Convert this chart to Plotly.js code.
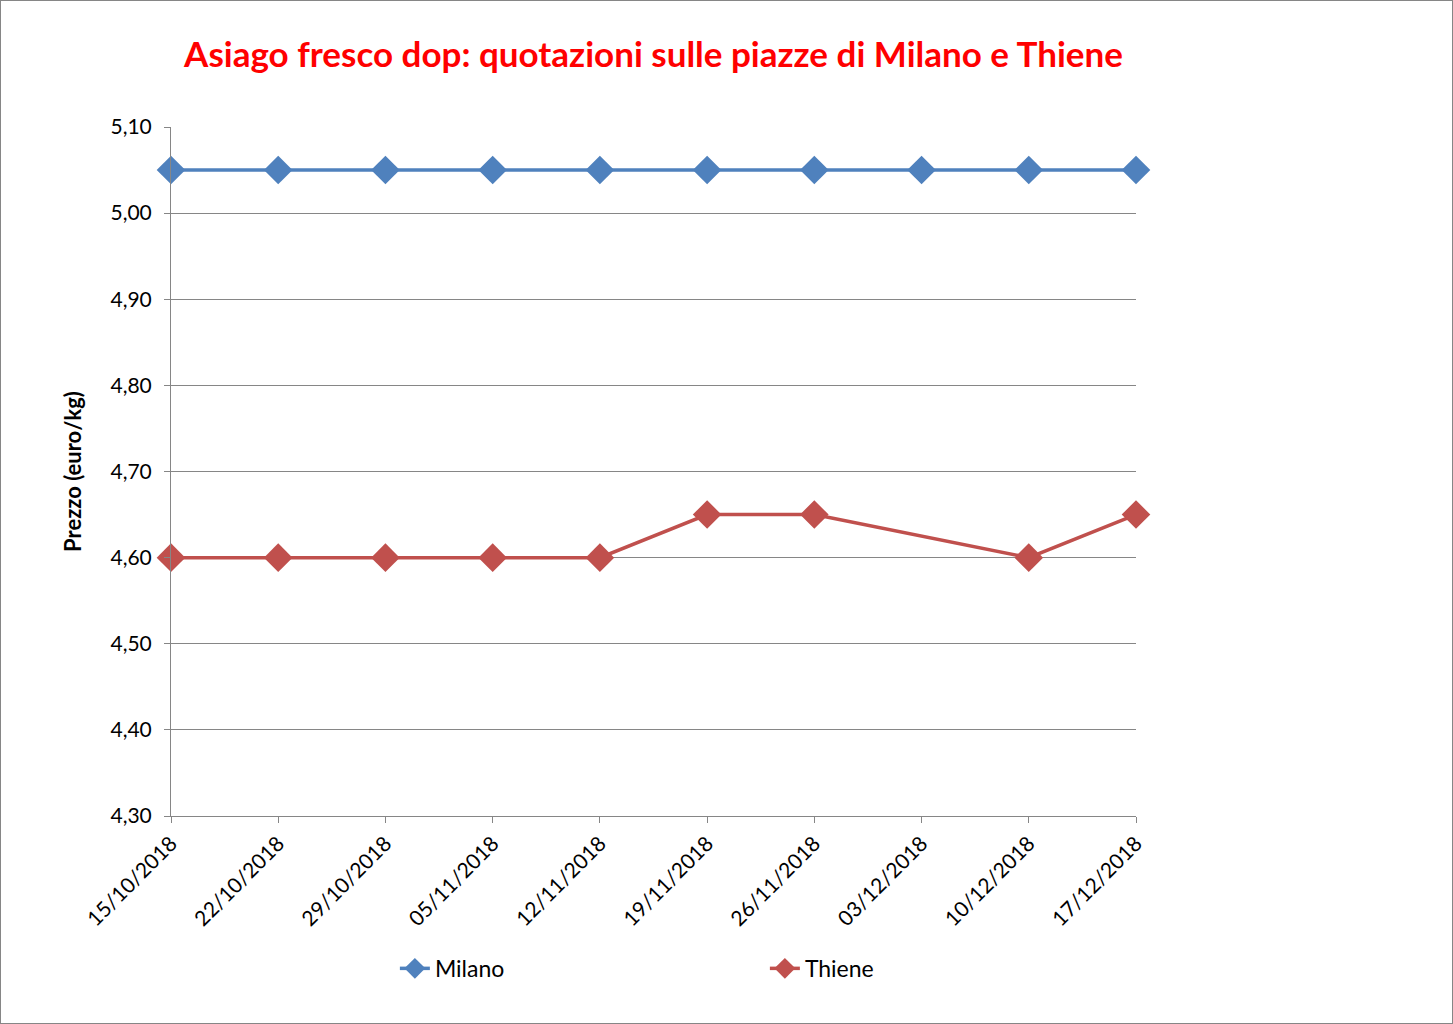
<!DOCTYPE html>
<html>
<head>
<meta charset="utf-8">
<script src="https://cdn.plot.ly/plotly-3.0.1.min.js"></script>
<style>
  html, body { margin: 0; padding: 0; background: #fff; }
  #chart { width: 1451px; height: 1022px; border: 1px solid #868686; }
</style>
</head>
<body>
<div id="chart"></div>
<script>
const dates = ["15/10/2018","22/10/2018","29/10/2018","05/11/2018","12/11/2018","19/11/2018","26/11/2018","03/12/2018","10/12/2018","17/12/2018"];
const milano = [5.05,5.05,5.05,5.05,5.05,5.05,5.05,5.05,5.05,5.05];
const thiene = [4.60,4.60,4.60,4.60,4.60,4.65,4.65,null,4.60,4.65];
const yTicks = [4.30,4.40,4.50,4.60,4.70,4.80,4.90,5.00,5.10];

const FONT = "Lato, 'Open Sans', sans-serif";

const traces = [
  {
    x: dates, y: milano, name: "Milano", type: "scatter", mode: "lines+markers",
    line: {color: "#4F81BD", width: 3.5},
    marker: {symbol: "diamond", size: 22, color: "#4F81BD"},
    cliponaxis: false
  },
  {
    x: dates, y: thiene, name: "Thiene", type: "scatter", mode: "lines+markers",
    connectgaps: true,
    line: {color: "#C0504D", width: 3.5},
    marker: {symbol: "diamond", size: 22, color: "#C0504D"},
    cliponaxis: false
  }
];

const layout = {
  width: 1451, height: 1022,
  margin: {l: 170, r: 316, t: 126, b: 207},
  paper_bgcolor: "#fff", plot_bgcolor: "#fff",
  separators: ",.",
  font: {family: FONT, size: 21, color: "#000"},
  title: {
    text: "<b>Asiago fresco dop: quotazioni sulle piazze di Milano e Thiene</b>",
    font: {family: FONT, size: 35, color: "#FF0000"},
    x: 0.4497, xanchor: "center", y: 0.947, yanchor: "middle"
  },
  xaxis: {
    type: "category", range: [0, 9],
    showgrid: false, zeroline: false,
    showline: true, linecolor: "#868686", linewidth: 1,
    ticks: "outside", ticklen: 6, tickcolor: "#868686",
    tickangle: -45, tickfont: {family: FONT, size: 21, color: "#000"}
  },
  yaxis: {
    range: [4.30, 5.10], tickvals: yTicks, tickformat: ".2f",
    showgrid: true, gridcolor: "#868686", gridwidth: 1,
    zeroline: false, showline: true, linecolor: "#868686", linewidth: 1,
    ticks: "outside", ticklen: 6, tickcolor: "#868686",
    ticklabelstandoff: 8,
    tickfont: {family: FONT, size: 21, color: "#000"},
    title: {text: "<b>Prezzo (euro/kg)</b>", font: {family: FONT, size: 22, color: "#000"}, standoff: 22}
  },
  showlegend: true,
  legend: {
    orientation: "h", x: 0.232, xanchor: "left", y: -0.19, yanchor: "top",
    entrywidth: 325, entrywidthmode: "pixels",
    font: {family: FONT, size: 23, color: "#000"},
    bgcolor: "rgba(0,0,0,0)"
  }
};

Plotly.newPlot("chart", traces, layout, {displayModeBar: false, staticPlot: true});
</script>
</body>
</html>
